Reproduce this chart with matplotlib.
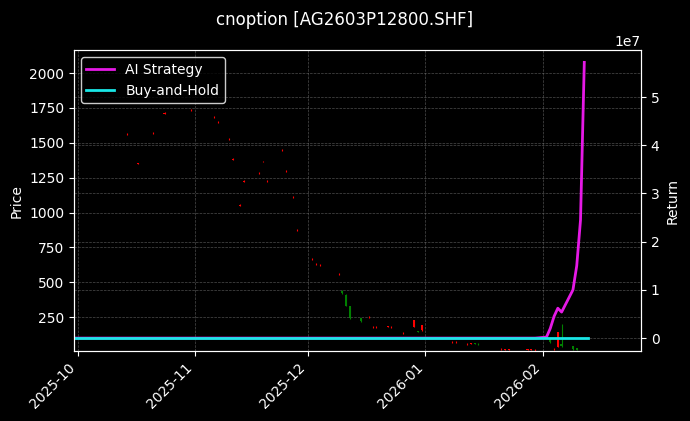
import matplotlib
matplotlib.use("Agg")
import matplotlib.pyplot as plt
import matplotlib.dates as mdates
import pandas as pd
import numpy as np

plt.style.use("dark_background")

# candle data (date, open, high, low, close)
c_dates = ["2025-10-14","2025-10-17","2025-10-21","2025-10-24","2025-10-31","2025-11-06","2025-11-07",
           "2025-11-10","2025-11-11","2025-11-13","2025-11-14","2025-11-18","2025-11-19","2025-11-20",
           "2025-11-24","2025-11-25","2025-11-27","2025-11-28","2025-12-02","2025-12-03","2025-12-04",
           "2025-12-09","2025-12-10","2025-12-11","2025-12-12","2025-12-15","2025-12-17","2025-12-18",
           "2025-12-19","2025-12-22","2025-12-23","2025-12-26","2025-12-29","2025-12-30","2025-12-31",
           "2026-01-08","2026-01-09","2026-01-12","2026-01-13","2026-01-14","2026-01-15","2026-01-21",
           "2026-01-22","2026-01-23","2026-01-28","2026-01-29","2026-01-30","2026-02-03","2026-02-04",
           "2026-02-05","2026-02-06","2026-02-09","2026-02-10"]
c_open  = [1560,1350,1568,1710,1733,1682,1648,1525,1380,1050,1222,1281,1366,1223,1446,1295,1108,872,
           664,628,621,556,440,410,330,240,250,178,178,180,176,133,180,150,155,70,68,55,60,62,58,20,
           16,15,15,14,12,90,20,35,60,40,25]
c_close = [1565,1355,1572,1715,1737,1686,1652,1529,1385,1055,1227,1285,1370,1227,1450,1299,1112,876,
           668,632,625,560,420,330,240,220,254,182,182,184,180,137,228,146,190,74,72,59,64,58,54,24,
           20,19,19,18,16,70,24,140,40,20,15]
c_high  = [max(o, c) + 3 for o, c in zip(c_open, c_close)]
c_low   = [min(o, c) - 3 for o, c in zip(c_open, c_close)]
c_high[50] = 200

# return series
r_dates = pd.bdate_range("2025-09-30", "2026-02-12")
strat_tail_dates = ["2026-02-02","2026-02-03","2026-02-04","2026-02-05","2026-02-06","2026-02-09",
                    "2026-02-10","2026-02-11","2026-02-12"]
strat_tail_vals = [0.2e6, 2.0e6, 4.5e6, 6.2e6, 5.4e6, 1.0e7, 1.5e7, 2.45e7, 5.72e7]
bh_value = 0.05e6

strat = pd.Series(0.0, index=r_dates)
for d, v in zip(strat_tail_dates, strat_tail_vals):
    strat[pd.Timestamp(d)] = v
bh = pd.Series(bh_value, index=pd.bdate_range("2025-09-30", "2026-02-13"))

fig = plt.figure(figsize=(6.9, 4.21), dpi=100)
fig.patch.set_facecolor("black")
ax = fig.add_axes([0.107, 0.166, 0.822, 0.715])
ax.set_facecolor("black")

dts = pd.to_datetime(c_dates)
for d, o, h, l, c in zip(dts, c_open, c_high, c_low, c_close):
    col = "red" if c >= o else "green"
    x = mdates.date2num(d)
    ax.vlines(x, l, h, color=col, linewidth=0.8)
    ax.bar(x, max(abs(c - o), 4), bottom=min(o, c), width=0.6, color=col)

ax.set_ylim(6, 2165)
ax.set_xlim(mdates.date2num(pd.Timestamp("2025-09-30")), mdates.date2num(pd.Timestamp("2026-02-27")))
ax.set_ylabel("Price", color="white")
ax.grid(True, linestyle="--", linewidth=0.5, color="gray", alpha=0.6)
ax.xaxis.set_major_locator(mdates.MonthLocator())
ax.xaxis.set_major_formatter(mdates.DateFormatter("%Y-%m"))
plt.setp(ax.get_xticklabels(), rotation=45, ha="right")

ax2 = ax.twinx()
l1, = ax2.plot(strat.index, strat.values, color="#e619e6", linewidth=2, label="AI Strategy")
l2, = ax2.plot(bh.index, bh.values, color="#19e6e6", linewidth=2, label="Buy-and-Hold")
ax2.set_ylim(-2.7e6, 5.975e7)
ax2.set_ylabel("Return", color="white")
ax2.grid(True, linestyle="--", linewidth=0.5, color="gray", alpha=0.6)
ax2.legend(handles=[l1, l2], loc="upper left", facecolor="black", edgecolor="white")

fig.suptitle("cnoption [AG2603P12800.SHF]", color="white", fontsize=12, y=0.975)
fig.savefig("out.png", dpi=100, facecolor="black")
